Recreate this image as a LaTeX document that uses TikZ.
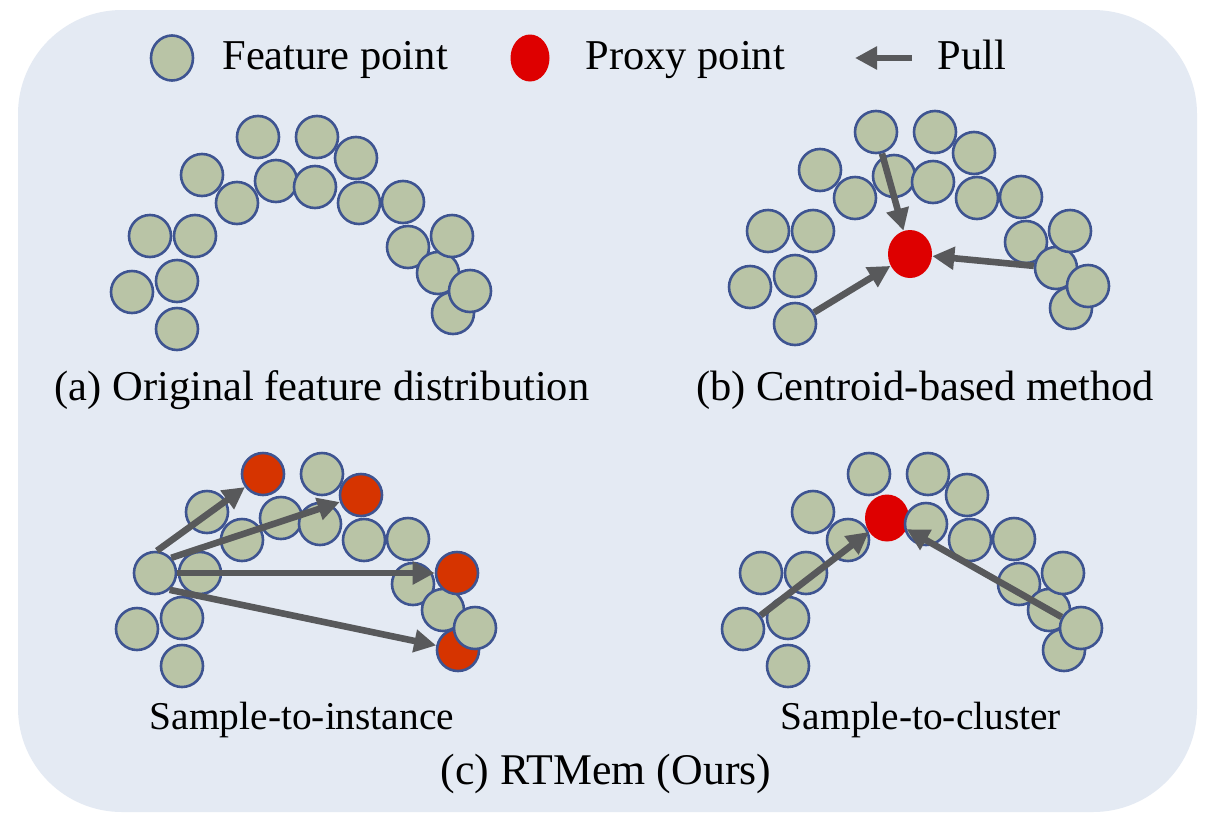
\documentclass[tikz,border=0pt]{standalone}
\usepackage{fontspec}
\setmainfont{Liberation Serif}
\usetikzlibrary{arrows.meta,shapes.geometric}
\definecolor{bgc}{RGB}{228,234,243}
\definecolor{featfill}{RGB}{185,196,166}
\definecolor{featline}{RGB}{62,84,145}
\definecolor{proxyred}{RGB}{222,0,0}
\definecolor{proxyorange}{RGB}{214,52,0}
\definecolor{pullgray}{RGB}{88,89,91}
\newcommand\clusterpts{258/137/1,317/137/2,356/158/3,202/175/4,237/203/5,276/181/6,315/187/7,359/203/8,403/202/9,150/236/10,195/236/11,408/247/12,438/273/14,452/236/13,453/313/16,470/291/15,132/292/17,177/281/18,177/329/19}
\newcommand\markprox[2]{\expandafter\def\csname prox@#1@#2\endcsname{}}
\newcommand\markred[2]{\expandafter\def\csname red@#1@#2\endcsname{}}
\newcommand\drawcluster[1]{%
  \foreach \x/\y/\i in \clusterpts {%
    \ifcsname prox@#1@\i\endcsname
      \node[proxyo] (#1\i) at (\x,\y) {};
    \else
      \ifcsname red@#1@\i\endcsname
        \node[proxyr] (#1\i) at (\x,\y) {};
      \else
        \node[feat] (#1\i) at (\x,\y) {};
      \fi
    \fi}}
\markprox{pc}{1}\markprox{pc}{3}\markprox{pc}{13}\markprox{pc}{16}
\markred{pd}{6}
\begin{document}
\begin{tikzpicture}[x=0.5pt,y=-0.5pt,
  feat/.style={circle, draw=featline, fill=featfill, line width=1.3pt, minimum size=21pt, inner sep=0pt},
  proxyo/.style={feat, fill=proxyorange},
  proxyr/.style={ellipse, fill=proxyred, minimum width=22pt, minimum height=23.5pt, inner sep=0pt},
  pull/.style={draw=pullgray, line width=3.3pt, -{Triangle[length=11pt,width=11pt]}},
  txt/.style={font=\fontsize{21.25pt}{25pt}\selectfont, inner sep=0pt},
  subtxt/.style={font=\fontsize{19.7pt}{24pt}\selectfont, inner sep=0pt},
  bigtxt/.style={font=\fontsize{21.9pt}{26pt}\selectfont, inner sep=0pt}]
\useasboundingbox (0,0) rectangle (1214,825);
\fill[white] (0,0) rectangle (1214,825);
\fill[bgc, rounded corners=52pt] (18,10) rectangle (1197,812);

% legend
\node[feat, ellipse, minimum width=21pt, minimum height=22.5pt] (lf) at (172,58) {};
\node[txt, anchor=base west] (lft) at (222,69) {Feature point};
\node[proxyr, minimum width=19.5pt, minimum height=23.5pt] (lp) at (530,58) {};
\node[txt, anchor=base west] (lpt) at (585,69) {Proxy point};
\coordinate (pullA) at (912,58);
\coordinate (pullB) at (855,58);
\draw[pull] (pullA) -- (pullB);
\node[txt, anchor=base west] (lpl) at (937,69) {Pull};

% (a)
\begin{scope}
  \drawcluster{pa}
\end{scope}
\node[txt, anchor=base] (capa) at (322,400) {(a) Original feature distribution};

% (b)
\begin{scope}[shift={(618,-5)}]
  \drawcluster{pb}
\end{scope}
\node[proxyr, minimum height=24pt] (pbr) at (910,254) {};
\draw[pull] (pb1) -- (pbr);
\draw[pull] (pb19) -- (pbr);
\draw[pull] (pb14) -- (pbr);
\node[txt, anchor=base] (capb) at (925,400) {(b) Centroid-based method};

% (c) left
\begin{scope}[shift={(5,337)}]
  \drawcluster{pc}
\end{scope}
\draw[pull] (pc10.85) -- (pc1);
\draw[pull] (pc10.43) -- (pc3);
\draw[pull] (pc10.east) -- (pc13);
\draw[pull] (pc10.-49) -- (pc16);
\node[subtxt, anchor=base] (capc1) at (302,729) {Sample-to-instance};

% (c) right
\begin{scope}[shift={(611,337)}]
  \drawcluster{pd}
\end{scope}
\draw[pull] (pd17) -- (pd6);
\draw[pull] (pd15) -- (pd6);
\node[subtxt, anchor=base] (capc2) at (921,729) {Sample-to-cluster};

\node[bigtxt, anchor=base] (capc) at (606,784) {(c) RTMem (Ours)};
\end{tikzpicture}
\end{document}
